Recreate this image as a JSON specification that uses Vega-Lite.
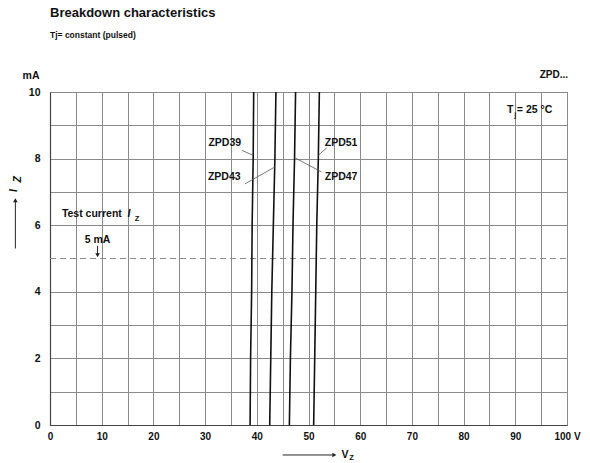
{
  "$schema": "https://vega.github.io/schema/vega-lite/v6.json",
  "width": 517,
  "height": 333,
  "autosize": "none",
  "padding": {"left": 50, "top": 92, "right": 23, "bottom": 38},
  "background": "white",
  "title": {
    "text": "Breakdown characteristics",
    "subtitle": "Tj= constant (pulsed)",
    "anchor": "start",
    "frame": "group",
    "font": "Liberation Sans",
    "fontSize": 13,
    "fontWeight": "bold",
    "subtitleFont": "Liberation Sans",
    "subtitleFontSize": 8.5,
    "subtitleFontWeight": "bold",
    "subtitlePadding": 11,
    "color": "#111",
    "subtitleColor": "#111",
    "offset": 31
  },
  "config": {
    "view": {"stroke": "#777", "strokeWidth": 1},
    "font": "Liberation Sans",
    "text": {"font": "Liberation Sans", "fontWeight": "bold", "color": "#111"}
  },
  "datasets": {
    "curves": [
      {"series": "ZPD39", "v": 38.7, "i": 0},
      {"series": "ZPD39", "v": 38.8, "i": 2},
      {"series": "ZPD39", "v": 39.0, "i": 4},
      {"series": "ZPD39", "v": 39.1, "i": 6},
      {"series": "ZPD39", "v": 39.3, "i": 8},
      {"series": "ZPD39", "v": 39.4, "i": 10},
      {"series": "ZPD43", "v": 42.5, "i": 0},
      {"series": "ZPD43", "v": 42.7, "i": 2},
      {"series": "ZPD43", "v": 42.9, "i": 4},
      {"series": "ZPD43", "v": 43.2, "i": 6},
      {"series": "ZPD43", "v": 43.5, "i": 8},
      {"series": "ZPD43", "v": 43.7, "i": 10},
      {"series": "ZPD47", "v": 46.3, "i": 0},
      {"series": "ZPD47", "v": 46.5, "i": 2},
      {"series": "ZPD47", "v": 46.8, "i": 4},
      {"series": "ZPD47", "v": 47.0, "i": 6},
      {"series": "ZPD47", "v": 47.3, "i": 8},
      {"series": "ZPD47", "v": 47.5, "i": 10},
      {"series": "ZPD51", "v": 51.0, "i": 0},
      {"series": "ZPD51", "v": 51.2, "i": 2},
      {"series": "ZPD51", "v": 51.4, "i": 4},
      {"series": "ZPD51", "v": 51.6, "i": 6},
      {"series": "ZPD51", "v": 51.9, "i": 8},
      {"series": "ZPD51", "v": 52.1, "i": 10}
    ],
    "testcurrent": [{"v": 0, "v2": 100, "i": 5, "i2": 5}],
    "curvelabels": [
      {"name": "ZPD39", "v": 33.8, "i": 8.47},
      {"name": "ZPD43", "v": 33.7, "i": 7.45},
      {"name": "ZPD51", "v": 56.3, "i": 8.47},
      {"name": "ZPD47", "v": 56.3, "i": 7.45}
    ],
    "leaders": [
      {"name": "ZPD39", "v": 37.1, "i": 8.25, "v2": 39.25, "i2": 8.1},
      {"name": "ZPD43", "v": 37.7, "i": 7.24, "v2": 43.5, "i2": 7.75},
      {"name": "ZPD51", "v": 51.9, "i": 8.1, "v2": 53.5, "i2": 8.32},
      {"name": "ZPD47", "v": 47.3, "i": 8.03, "v2": 52.5, "i2": 7.6}
    ],
    "notes_left": [
      {"text": "Test current", "v": 2.3, "i": 6.33},
      {"text": "T", "v": 88.4, "i": 9.46},
      {"text": "= 25 °C", "v": 90.3, "i": 9.46},
      {"text": "V", "v": 56.4, "i": -0.9}
    ],
    "notes_italic": [
      {"text": "I", "v": 15.0, "i": 6.33}
    ],
    "notes_center": [
      {"text": "5 mA", "v": 9.2, "i": 5.55}
    ],
    "notes_right": [
      {"text": "ZPD...", "v": 100.2, "i": 10.5}
    ],
    "subs": [
      {"text": "Z", "v": 16.4, "i": 6.2},
      {"text": "j", "v": 89.8, "i": 9.3},
      {"text": "Z", "v": 57.9, "i": -1.0}
    ],
    "rotated": [
      {"text": "I", "v": -6.9, "i": 7.0},
      {"text": "Z", "v": -6.2, "i": 7.28}
    ],
    "arrows": [
      {"name": "test", "v": 9.2, "i": 5.38, "v2": 9.2, "i2": 5.12},
      {"name": "yaxis", "v": -6.7, "i": 5.3, "v2": -6.7, "i2": 6.7},
      {"name": "xaxis", "v": 45.0, "i": -0.9, "v2": 54.6, "i2": -0.9}
    ],
    "heads": [
      {"name": "test", "dir": "down", "v": 9.2, "i": 5.1},
      {"name": "yaxis", "dir": "up", "v": -6.7, "i": 6.75},
      {"name": "xaxis", "dir": "right", "v": 55.0, "i": -0.9}
    ]
  },
  "encoding": {
    "x": {
      "field": "v", "type": "quantitative",
      "scale": {"domain": [0, 100], "nice": false},
      "axis": {
        "values": [0, 5, 10, 15, 20, 25, 30, 35, 40, 45, 50, 55, 60, 65, 70, 75, 80, 85, 90, 95, 100],
        "labelExpr": "datum.value % 10 != 0 ? '' : (datum.value == 100 ? '100 V' : datum.label)",
        "labelOverlap": false,
        "grid": true, "gridColor": "#8a8a8a", "gridWidth": 1,
        "ticks": false,
        "domainColor": "#444", "domainWidth": 1.2,
        "labelFont": "Liberation Sans", "labelFontWeight": "bold", "labelFontSize": 10,
        "labelColor": "#111", "labelPadding": 6, "labelFlush": false,
        "title": null
      }
    },
    "y": {
      "field": "i", "type": "quantitative",
      "scale": {"domain": [0, 10], "nice": false},
      "axis": {
        "values": [0, 1, 2, 3, 4, 6, 7, 8, 9, 10],
        "labelExpr": "datum.value % 2 == 0 ? datum.label : ''",
        "labelOverlap": false,
        "grid": true, "gridColor": "#8a8a8a", "gridWidth": 1,
        "ticks": false,
        "domainColor": "#444", "domainWidth": 1.2,
        "labelFont": "Liberation Sans", "labelFontWeight": "bold", "labelFontSize": 10.5,
        "labelColor": "#111", "labelPadding": 10,
        "title": "mA", "titleAngle": 0, "titleX": -11, "titleY": -17,
        "titleAlign": "right", "titleBaseline": "middle",
        "titleFont": "Liberation Sans", "titleFontWeight": "bold", "titleFontSize": 10.5, "titleColor": "#111"
      }
    }
  },
  "layer": [
    {
      "data": {"name": "testcurrent"},
      "mark": {"type": "rule", "color": "#8c8c8c", "strokeWidth": 1, "strokeDash": [6, 4]},
      "encoding": {"x2": {"field": "v2"}, "y2": {"field": "i2"}}
    },
    {
      "data": {"name": "curves"},
      "mark": {"type": "line", "color": "#111", "strokeWidth": 1.6},
      "encoding": {"detail": {"field": "series"}}
    },
    {
      "data": {"name": "leaders"},
      "mark": {"type": "rule", "color": "#555", "strokeWidth": 0.8},
      "encoding": {"x2": {"field": "v2"}, "y2": {"field": "i2"}}
    },
    {
      "data": {"name": "curvelabels"},
      "mark": {"type": "text", "fontSize": 10.5, "align": "center", "baseline": "middle"},
      "encoding": {"text": {"field": "name"}}
    },
    {
      "data": {"name": "notes_left"},
      "mark": {"type": "text", "fontSize": 10.5, "align": "left", "baseline": "middle"},
      "encoding": {"text": {"field": "text"}}
    },
    {
      "data": {"name": "notes_italic"},
      "mark": {"type": "text", "fontSize": 10.5, "fontStyle": "italic", "align": "left", "baseline": "middle"},
      "encoding": {"text": {"field": "text"}}
    },
    {
      "data": {"name": "notes_center"},
      "mark": {"type": "text", "fontSize": 10.5, "align": "center", "baseline": "middle"},
      "encoding": {"text": {"field": "text"}}
    },
    {
      "data": {"name": "notes_right"},
      "mark": {"type": "text", "fontSize": 10, "align": "right", "baseline": "middle"},
      "encoding": {"text": {"field": "text"}}
    },
    {
      "data": {"name": "subs"},
      "mark": {"type": "text", "fontSize": 7.5, "align": "left", "baseline": "middle"},
      "encoding": {"text": {"field": "text"}}
    },
    {
      "data": {"name": "rotated"},
      "mark": {"type": "text", "fontSize": 10.5, "fontStyle": "italic", "angle": 270, "align": "left", "baseline": "middle"},
      "encoding": {"text": {"field": "text"}}
    },
    {
      "data": {"name": "arrows"},
      "mark": {"type": "rule", "color": "#222", "strokeWidth": 1},
      "encoding": {"x2": {"field": "v2"}, "y2": {"field": "i2"}}
    },
    {
      "data": {"name": "heads"},
      "mark": {"type": "point", "filled": true, "color": "#222", "size": 22, "opacity": 1},
      "encoding": {
        "shape": {
          "field": "dir", "type": "nominal",
          "scale": {"domain": ["up", "down", "right"], "range": ["triangle-up", "triangle-down", "triangle-right"]},
          "legend": null
        }
      }
    }
  ]
}
